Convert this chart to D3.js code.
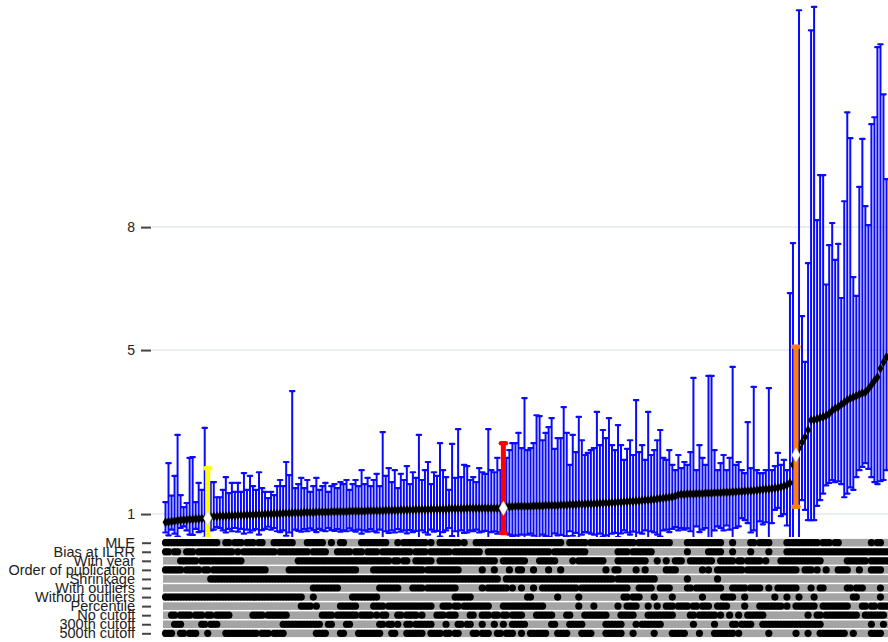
<!DOCTYPE html>
<html>
<head>
<meta charset="utf-8">
<script src="https://cdn.jsdelivr.net/npm/d3@7"></script>
<style>
  body { margin: 0; background: #ffffff; }
  svg { display: block; }
</style>
</head>
<body>
<svg id="chart" width="888" height="642"></svg>
<script>
// Point estimates of each specification, sorted ascending
const estimate = [
  0.80,0.81,0.82,0.83,0.84,0.85,0.86,0.86,0.87,0.87,
  0.88,0.88,0.89,0.89,0.90,0.93,0.94,0.94,0.95,0.95,
  0.95,0.96,0.96,0.96,0.97,0.97,0.97,0.98,0.98,0.98,
  0.99,0.99,0.99,1.00,1.00,1.00,1.01,1.01,1.01,1.02,
  1.02,1.02,1.03,1.03,1.03,1.03,1.04,1.04,1.04,1.04,
  1.05,1.05,1.05,1.05,1.05,1.06,1.06,1.06,1.06,1.06,
  1.06,1.07,1.07,1.07,1.07,1.07,1.07,1.08,1.08,1.08,
  1.08,1.08,1.08,1.09,1.09,1.09,1.09,1.09,1.10,1.10,
  1.10,1.10,1.10,1.11,1.11,1.11,1.11,1.11,1.12,1.12,
  1.12,1.12,1.12,1.12,1.13,1.13,1.13,1.13,1.13,1.13,
  1.14,1.14,1.14,1.14,1.14,1.14,1.14,1.14,1.14,1.14,
  1.14,1.14,1.14,1.18,1.18,1.18,1.19,1.19,1.19,1.19,
  1.19,1.19,1.20,1.20,1.20,1.20,1.21,1.21,1.21,1.21,
  1.21,1.22,1.22,1.22,1.23,1.23,1.23,1.24,1.24,1.24,
  1.25,1.25,1.25,1.26,1.26,1.27,1.27,1.27,1.28,1.28,
  1.29,1.29,1.30,1.30,1.31,1.31,1.32,1.32,1.33,1.34,
  1.34,1.35,1.36,1.37,1.38,1.39,1.40,1.41,1.42,1.44,
  1.47,1.48,1.48,1.49,1.49,1.49,1.50,1.50,1.50,1.51,
  1.51,1.51,1.52,1.52,1.52,1.53,1.53,1.53,1.54,1.54,
  1.55,1.55,1.56,1.56,1.57,1.57,1.58,1.59,1.60,1.61,
  1.61,1.62,1.63,1.64,1.66,1.68,1.71,1.76,2.20,2.44,
  2.61,2.75,2.88,3.05,3.29,3.30,3.32,3.35,3.37,3.40,
  3.45,3.52,3.58,3.61,3.67,3.72,3.78,3.82,3.85,3.88,
  3.92,3.95,3.97,4.05,4.15,4.25,4.34,4.55,4.70,4.83
];

// Upper end of each interval
const upper = [
  1.29,2.24,1.45,1.93,2.93,1.46,1.17,1.27,2.37,2.39,
  1.29,1.76,1.59,3.10,2.12,1.78,1.78,1.41,1.41,1.59,
  1.90,1.51,1.76,1.54,1.76,1.54,2.00,1.59,1.93,1.68,
  1.59,2.02,1.63,1.54,1.39,1.54,1.46,1.68,1.83,1.68,
  2.27,1.95,4.00,1.63,1.73,1.88,1.63,1.83,1.54,1.68,
  1.88,1.59,1.68,1.76,1.54,1.68,1.73,1.63,1.78,1.73,
  1.83,1.59,1.73,1.83,1.68,2.07,1.73,1.88,1.68,1.83,
  1.98,1.68,3.00,1.93,2.12,1.78,2.07,1.63,1.98,1.83,
  2.17,1.73,2.02,1.88,2.93,1.83,2.07,2.27,1.73,2.02,
  1.93,2.73,2.07,1.90,1.59,2.71,1.88,3.07,1.90,2.20,
  2.17,1.83,1.90,1.78,2.12,2.02,1.98,3.07,2.07,2.02,
  2.37,2.07,2.73,2.37,2.56,2.73,2.73,2.98,2.61,3.83,
  2.56,2.61,2.73,3.41,3.39,2.80,2.98,3.12,3.34,2.59,
  2.85,2.85,3.61,2.98,2.20,2.93,2.51,3.37,2.80,2.44,
  2.49,2.56,2.61,3.49,2.68,3.05,2.85,3.34,2.68,2.56,
  3.17,2.68,2.32,2.59,2.80,2.44,3.78,2.51,2.68,2.32,
  3.49,2.44,2.56,2.80,3.05,2.37,2.32,2.56,2.20,2.07,
  2.44,2.12,2.27,2.20,2.51,4.32,2.07,2.68,2.37,2.20,
  4.37,4.37,2.56,2.07,2.24,2.44,2.07,2.37,4.59,2.20,
  2.27,2.07,2.00,3.24,2.12,4.10,2.07,2.00,2.00,2.07,
  4.07,2.07,2.17,2.49,2.20,2.32,2.07,6.39,7.61,5.08,
  13.29,5.83,4.71,7.12,12.80,13.37,8.17,9.27,9.27,6.60,
  7.56,8.10,7.20,7.59,6.27,8.63,10.80,10.17,6.78,6.32,
  8.98,10.15,8.51,8.05,10.51,10.68,12.39,12.46,11.24,9.17
];

// Lower end of each interval
const lower = [
  0.55,0.48,0.62,0.52,0.45,0.66,0.70,0.60,0.50,0.49,
  0.64,0.56,0.58,0.42,0.40,0.60,0.62,0.68,0.66,0.60,
  0.55,0.64,0.58,0.66,0.57,0.64,0.52,0.62,0.55,0.60,
  0.63,0.50,0.61,0.64,0.69,0.62,0.66,0.58,0.56,0.60,
  0.47,0.55,0.30,0.62,0.59,0.57,0.63,0.58,0.65,0.61,
  0.56,0.64,0.60,0.58,0.66,0.61,0.59,0.63,0.57,0.60,
  0.58,0.65,0.60,0.57,0.62,0.52,0.60,0.57,0.63,0.58,
  0.55,0.62,0.38,0.58,0.54,0.60,0.55,0.63,0.57,0.60,
  0.53,0.61,0.56,0.59,0.40,0.60,0.55,0.50,0.62,0.57,
  0.59,0.45,0.56,0.60,0.66,0.46,0.58,0.40,0.60,0.54,
  0.55,0.60,0.58,0.62,0.55,0.57,0.59,0.40,0.56,0.58,
  0.52,0.56,0.54,0.52,0.50,0.46,0.48,0.42,0.50,0.30,
  0.50,0.52,0.47,0.40,0.42,0.50,0.46,0.44,0.41,0.53,
  0.48,0.49,0.38,0.46,0.58,0.47,0.54,0.42,0.50,0.56,
  0.55,0.52,0.50,0.36,0.52,0.45,0.48,0.40,0.52,0.54,
  0.44,0.53,0.60,0.55,0.50,0.57,0.32,0.55,0.52,0.60,
  0.38,0.58,0.55,0.50,0.45,0.60,0.62,0.56,0.64,0.68,
  0.60,0.66,0.62,0.65,0.58,0.30,0.70,0.56,0.62,0.66,
  0.30,0.32,0.60,0.70,0.66,0.60,0.72,0.62,0.28,0.66,
  0.70,0.90,0.85,0.78,0.55,0.60,0.35,0.82,0.75,0.80,
  0.40,0.78,1.10,1.15,0.95,1.00,0.72,0.30,0.30,1.18,
  0.35,1.34,1.10,0.85,0.85,0.85,1.20,1.34,1.50,1.70,
  1.76,1.83,1.78,1.80,1.73,1.41,1.50,1.65,1.59,1.90,
  2.07,2.15,2.24,2.10,1.90,1.78,1.73,1.80,1.83,2.07
];

const yTicks = [1, 5, 8];

const optionLabels = [
  "MLE", "Bias at ILRR", "With year", "Order of publication", "Shrinkage",
  "With outliers", "Without outliers", "Percentile",
  "No cutoff", "300th cutoff", "500th cutoff"
];

// Which options each specification uses (1 = used), one string per option
const optionRows = [
  "111111111111111111 00 11 0 111 0 111 0 11 000 1111111 0000 111111 00 1 00 11" +
  "00000 111111111 000 1 0 11111111 0 1 00 1111111 0 1 000 11111111111111111" +
  "111111111111 00 111111 0 111111111111111 0 11111111111 00000 1111111" +
  "11111 000 1 00000 11 0 1111 00000 11111111111 0 111 0 11 0000000000 1 0 11 00",

  "11011 00 111 0 111111111111 0 1 0 11111111111 0 1111111111 0 11111 000 111" +
  "11 0 111 0 1111 0 1111111111 0 1111 0 1111111 0 111111111 00 1111111111111" +
  "11111111 0 11111111111 0000000000 1111 0 1111111 00000000000 1 000000" +
  "11111 000 1 00000 1 00000 1 00000 1111111111111111111111111111111111",

  "00000 111111 0 11111111111111 000000000000000000 1111111111111111" +
  "111111111111111 0 11 0 11 00 111111 00 1111111111111111111 00 11111111" +
  "0000 111111 00000 1 0 111111111 0000 1111111111 000 1 00 1 00 111 00 111111" +
  "11 00 11111 0 11011111 0 1 0000 11111111111111 00000000 11111110111111",

  "111111 0 11111 0 11 0 111111111111111111 0000000 1111111111111111111" +
  "1111 00000 11111111111111111 0 11111111111 0000000 1 000 1 0000 1 00 11 0" +
  "00 1 0000 1 000 1 00000000000000 1 00 11 00000 1 00 1 000000 1111 00000000 1 0" +
  "1 00 111111111 0 11111111111111111 00 111 0 1 00 1 000 1111 000 1 000 1111 00",

  "000000000000000 111111111111111111111111111111111111111111111" +
  "111111111111111111111111111111111111111111111111111 00 1111111" +
  "11111111111111111111111111111 0 1111111111111 0000000000 1 000000" +
  "000 1 00000000000000000000000000000000000000000000000000000000",

  "0000000000000000000000000000000000000000000000000 111111111 00" +
  "00000000000 1111111 0000 1111 0 1111111111 00000000 1 0 1111111 0 1 00 1 0" +
  "00 1 00 111111111111 0 1111111111111111 000 11111 00 1111 00000 1101111" +
  "11111 000 1111101111 00 1 00 1111111 0000 1 00 11 0000000 110111 00000 1 00",

  "1111111111111111111111111111111111111111111111 000 1 0000000000" +
  "00 111111111 0000000000000000000000000 111111 000000000000000000" +
  "11 00000000 1 000000 1 00000000000000 110111 0000 1 00000 1 000000000 1 0" +
  "00000 1111 000 1 000000000 1 000 1 000 1 0000 1 000000000000 11 0000000 1 00",

  "000000000000000000000000000000000000000000000 1111 0 1 0000000 11" +
  "1111 00000 1111 0 111111111111111 000 111 0 11 0 111111111 0000 11111111" +
  "111111 00000000000 1 0000 1 0000000 1 00 1111 000 1 00 1 00 11101111011011" +
  "1 00 1111 00000 1 0000 1111111101 00 1111111 00 111111111 0000 110110111",

  "00 11 0 1111 0 111 0 11 0 11111 0000000 1111 0 1111111 00000000000 1111 0 111" +
  "11110111101 0 11 000 1101111 0 1 0000 1110111 0000 11 00 111011 0 11011110" +
  "000 111111 0000 11 0000 11111111 0000 11111 0000 111111111 00000 110111" +
  "111 0 1 00 1 00 1 00 111111 00000000000000 1 00 11011111111111 00 1111111 0",

  "000 111 000000 11 0 111 000000000000000000000 1111111111111 00 11 0000" +
  "11 000000000 11011 0 1 00 110111111 0000 1 000 11011 000 1 000 1 00 1 00 11111" +
  "00000000 11 0000 11111 0000000 111111 0000 1 0 1111111 0000000000 1 0000" +
  "00 1 00000 1101111 000 11111111111111111111 0000000000000000 1 000 1 0",

  "111 00 11 0 111 000 1 00000 11111111111 0 111 0 1111 0000000000 1111 0000 11" +
  "0000 11111111 000 11 000 111111 00 1111 0 11011 0000 11 0 111 00 11 0 111 00 1 0" +
  "0 111111 000 1111 0000 1111 0000 111111 000 1 000000 1 00000 11111 0000 1 00" +
  "00 1111111 0 1 000000000 1 00000000 1 000 1 000 111111111 00 1 00000 1111 00"
];

// Specifications picked out in colour
const highlights = [
  { index: 14,  color: "#ffff00" },
  { index: 112, color: "#ff0000" },
  { index: 209, color: "#ff7f0e" }
];

const FONT = "'Liberation Sans', Arial, Helvetica, sans-serif";
const N = estimate.length;
const svg = d3.select("#chart");

const x = d3.scalePoint().domain(d3.range(N)).range([164, 888]).padding(0.5);
const y = d3.scaleLinear().domain([0.44, 13.54]).range([537, 0]);

// gridlines
svg.append("g")
  .selectAll("line")
  .data(yTicks)
  .join("line")
  .attr("x1", 152).attr("x2", 888)
  .attr("y1", d => y(d)).attr("y2", d => y(d))
  .attr("stroke", "#e8eef2")
  .attr("stroke-width", 2);

// value axis
const yAxis = svg.append("g")
  .attr("transform", "translate(151,0)")
  .call(d3.axisLeft(y).tickValues(yTicks).tickFormat(d3.format("d")).tickSize(10).tickPadding(6));
yAxis.select(".domain").remove();
yAxis.selectAll(".tick line").attr("stroke", "#444").attr("stroke-width", 2);
yAxis.selectAll(".tick text")
  .attr("font-family", FONT).attr("font-size", 14).attr("fill", "#222");

svg.append("clipPath").attr("id", "plotClip")
  .append("rect").attr("x", 150).attr("y", 0).attr("width", 738).attr("height", 537);

const plot = svg.append("g").attr("clip-path", "url(#plotClip)");
const hiSet = new Set(highlights.map(h => h.index));
const specs = d3.range(N).filter(i => !hiSet.has(i));

// interval bars
const BLUE = "#0a0aff";
plot.append("g")
  .selectAll("line")
  .data(specs)
  .join("line")
  .attr("x1", i => x(i)).attr("x2", i => x(i))
  .attr("y1", i => y(lower[i])).attr("y2", i => y(upper[i]))
  .attr("stroke", BLUE).attr("stroke-width", 2);

const caps = plot.append("g").attr("stroke", BLUE).attr("stroke-width", 2.2).attr("stroke-linecap", "round");
specs.forEach(i => {
  [upper[i], lower[i]].forEach(v => {
    caps.append("line")
      .attr("x1", x(i) - 2.2).attr("x2", x(i) + 2.2)
      .attr("y1", y(v)).attr("y2", y(v));
  });
});

// point estimates
const diamond = d3.symbol().type(d3.symbolDiamond);
plot.append("g")
  .selectAll("path")
  .data(specs)
  .join("path")
  .attr("d", diamond.size(30)())
  .attr("transform", i => `translate(${x(i)},${y(estimate[i])})`)
  .attr("fill", "#000");

// coloured specifications
highlights.forEach(h => {
  const i = h.index;
  const g = plot.append("g");
  g.append("line")
    .attr("x1", x(i)).attr("x2", x(i))
    .attr("y1", y(lower[i])).attr("y2", y(upper[i]))
    .attr("stroke", h.color).attr("stroke-width", 5);
  [upper[i], lower[i]].forEach(v => {
    g.append("line")
      .attr("x1", x(i) - 2.5).attr("x2", x(i) + 2.5)
      .attr("y1", y(v)).attr("y2", y(v))
      .attr("stroke", h.color).attr("stroke-width", 4.5).attr("stroke-linecap", "round");
  });
  g.append("path")
    .attr("d", d3.symbol().type(d3.symbolDiamond).size(60)())
    .attr("transform", `translate(${x(i)},${y(estimate[i])})`)
    .attr("fill", "#fff").attr("stroke", "#d0d0d0").attr("stroke-width", 0.6);
});

// option matrix
const rowY = d3.scalePoint().domain(optionLabels).range([542.7, 633.3]);
const bits = optionRows.map(s => s.replace(/\s/g, ""));

const matrix = svg.append("g");
matrix.selectAll("rect")
  .data(optionLabels)
  .join("rect")
  .attr("x", 163).attr("width", 725)
  .attr("y", d => rowY(d) - 3.8).attr("height", 7.6)
  .attr("fill", "#a4a4a4");

optionLabels.forEach((lab, r) => {
  const used = d3.range(N).filter(i => bits[r][i] === "1");
  matrix.append("g")
    .selectAll("circle")
    .data(used)
    .join("circle")
    .attr("cx", i => x(i)).attr("cy", rowY(lab))
    .attr("r", 3.6)
    .attr("fill", "#000");
});

const rowAxis = svg.append("g")
  .attr("transform", "translate(151,0)")
  .call(d3.axisLeft(rowY).tickSize(9).tickPadding(7));
rowAxis.select(".domain").remove();
rowAxis.selectAll(".tick line").attr("stroke", "#444").attr("stroke-width", 2);
rowAxis.selectAll(".tick text")
  .attr("font-family", FONT).attr("font-size", 14.5).attr("fill", "#222");
</script>
</body>
</html>
